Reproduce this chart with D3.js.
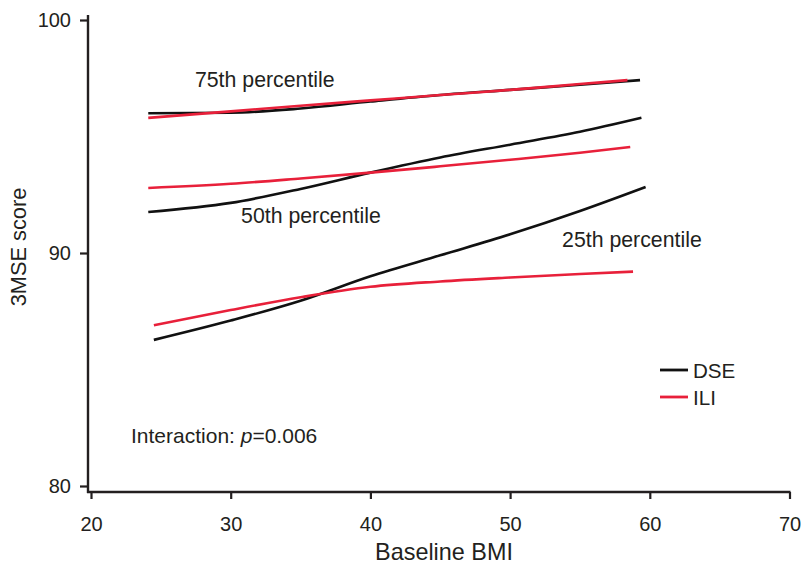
<!DOCTYPE html>
<html><head><meta charset="utf-8">
<script src="https://cdn.jsdelivr.net/npm/d3@7"></script>
<style>body{margin:0;background:#fff}svg{display:block}text{font-family:"Liberation Sans",Arial,sans-serif;fill:#231f20}</style>
</head><body>
<script>
const xTicks = [20, 30, 40, 50, 60, 70];
const yTicks = [80, 90, 100];
const dse75 = [[24.1,96.0],[30,96.02],[35,96.2],[40,96.5],[45,96.78],[50,97.0],[55,97.22],[59.3,97.42]];
const ili75 = [[24.1,95.8],[30,96.08],[35,96.32],[40,96.55],[45,96.78],[50,97.0],[55,97.25],[58.4,97.42]];
const dse50 = [[24.1,91.76],[30,92.15],[35,92.75],[40,93.45],[45,94.1],[50,94.65],[55,95.2],[59.4,95.8]];
const ili50 = [[24.1,92.79],[30,92.97],[35,93.2],[40,93.45],[45,93.72],[50,94.0],[55,94.3],[58.6,94.55]];
const dse25 = [[24.5,86.27],[30,87.1],[35,87.95],[40,89.0],[45,89.9],[50,90.8],[55,91.8],[59.7,92.83]];
const ili25 = [[24.5,86.9],[30,87.55],[35,88.1],[40,88.55],[45,88.78],[50,88.95],[55,89.1],[58.8,89.2]];
const series = [
  {name:"DSE", data:dse75},{name:"ILI", data:ili75},
  {name:"DSE", data:dse50},{name:"ILI", data:ili50},
  {name:"DSE", data:dse25},{name:"ILI", data:ili25}
];
const labels = [
  {text:"75th percentile", x:27.44, y:97.12},
  {text:"50th percentile", x:30.74, y:91.29},
  {text:"25th percentile", x:53.72, y:90.26}
];
const colors = {DSE:"#111111", ILI:"#e8203a"};

const W=803,H=565;
const svg=d3.select("body").append("svg").attr("width",W).attr("height",H);
const x=d3.scaleLinear().domain([20,70]).range([91,789.5]);
const y=d3.scaleLinear().domain([80,100]).range([486,20]);
const axisY0=88, axisX0=492;
const FONT="Liberation Sans, Arial, sans-serif";

// y axis
const gy=svg.append("g").attr("transform",`translate(${axisY0},0)`)
  .call(d3.axisLeft(y).tickValues(yTicks).tickSize(8).tickPadding(9));
gy.select(".domain").remove();
gy.selectAll(".tick line").attr("stroke","#231f20").attr("stroke-width",2.2);
gy.selectAll(".tick text").attr("font-size",20).attr("font-family",FONT).attr("fill","#231f20");
svg.append("line").attr("x1",axisY0).attr("x2",axisY0).attr("y1",15).attr("y2",axisX0+1)
  .attr("stroke","#231f20").attr("stroke-width",2.4);

// x axis
const gx=svg.append("g").attr("transform",`translate(0,${axisX0})`)
  .call(d3.axisBottom(x).tickValues(xTicks).tickSize(7).tickPadding(18));
gx.select(".domain").remove();
gx.selectAll(".tick line").attr("stroke","#231f20").attr("stroke-width",2.2);
gx.selectAll(".tick text").attr("font-size",20).attr("font-family",FONT).attr("fill","#231f20");
svg.append("line").attr("x1",axisY0-1).attr("x2",x(70)+1).attr("y1",axisX0).attr("y2",axisX0)
  .attr("stroke","#231f20").attr("stroke-width",2.4);

// titles
svg.append("text").attr("x",444).attr("y",560).attr("text-anchor","middle").attr("font-size",23.4).text("Baseline BMI");
svg.append("text").attr("transform",`translate(26,${247}) rotate(-90)`).attr("text-anchor","middle").attr("font-size",21.8).text("3MSE score");

// lines
const line=d3.line().x(d=>x(d[0])).y(d=>y(d[1])).curve(d3.curveMonotoneX);
svg.append("g").selectAll("path").data(series).join("path")
  .attr("d",d=>line(d.data)).attr("fill","none")
  .attr("stroke",d=>colors[d.name]).attr("stroke-width",2.6);

// labels
svg.append("g").selectAll("text").data(labels).join("text")
  .attr("x",d=>x(d.x)).attr("y",d=>y(d.y)).attr("font-size",21.3).text(d=>d.text);

const t=svg.append("text").attr("x",131).attr("y",443).attr("font-size",21);
t.append("tspan").text("Interaction: ");
t.append("tspan").attr("font-style","italic").text("p");
t.append("tspan").text("=0.006");

// legend
const leg=svg.append("g").selectAll("g").data(["DSE","ILI"]).join("g")
  .attr("transform",(d,i)=>`translate(660,${370+i*27})`);
leg.append("line").attr("x1",0).attr("x2",28).attr("stroke",d=>colors[d]).attr("stroke-width",2.8);
leg.append("text").attr("x",33).attr("y",7.5).attr("font-size",20.6).text(d=>d);
</script>
</body></html>
